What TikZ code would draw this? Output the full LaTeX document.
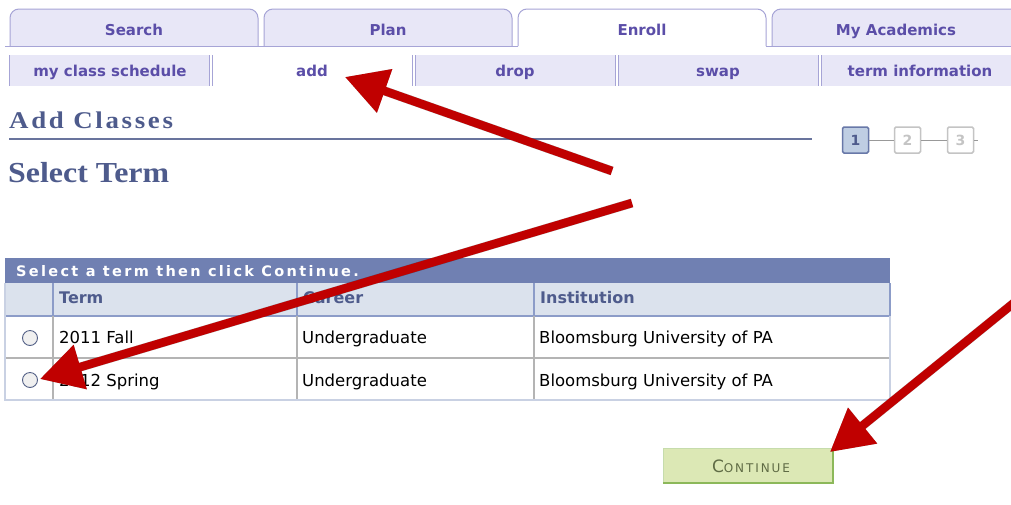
\documentclass[tikz,border=0pt]{standalone}
\usepackage{fontspec}
\setmainfont{DejaVu Sans}
\newfontfamily\hfont{Liberation Serif}
\newfontfamily\hfontsp{Liberation Serif}[LetterSpace=10]
\newfontfamily\barfont{DejaVu Sans}[LetterSpace=16]
\newfontfamily\btnfont{DejaVu Sans}[LetterSpace=16]
\usetikzlibrary{arrows.meta}
\definecolor{tabfill}{HTML}{E8E7F7}
\definecolor{tabline}{HTML}{A6A4D6}
\definecolor{tabtext}{HTML}{5B4EA8}
\definecolor{headcol}{HTML}{4E5B8C}
\definecolor{barfill}{HTML}{7080B2}
\definecolor{colhead}{HTML}{DBE2ED}
\definecolor{colline}{HTML}{8C9CC8}
\definecolor{gridline}{HTML}{B4B4B4}
\definecolor{outerline}{HTML}{C9D1E3}
\definecolor{arrowred}{HTML}{C00000}
\definecolor{btnfill}{HTML}{DCE8B5}
\definecolor{btnline}{HTML}{8CB85A}
\definecolor{btntext}{HTML}{5F6B45}
\definecolor{stepfill}{HTML}{BFCEE3}
\definecolor{stepline}{HTML}{6878A8}
\definecolor{stepgray}{HTML}{C4C4C4}
\tikzset{
  tabshape/.style={draw=tabline, line width=1pt, rounded corners=9},
  tabtxt/.style={text=tabtext, font=\fontsize{15}{15}\selectfont\bfseries, inner sep=0pt, anchor=base},
  subtxt/.style={text=tabtext, font=\fontsize{15}{15}\selectfont\bfseries, inner sep=0pt, anchor=base},
  sepline/.style={draw=tabline, line width=1pt},
  colhd/.style={text=headcol, font=\fontsize{16}{16}\selectfont\bfseries, anchor=base west, inner sep=0pt},
  celltxt/.style={text=black, font=\fontsize{16.5}{16.5}\selectfont, anchor=base west, inner sep=0pt},
  radio/.style={circle, draw=stepline!80!black, fill=gray!12, line width=0.9pt, minimum size=15pt, inner sep=0pt},
  stepbox/.style={draw=stepgray, line width=1.5pt, fill=white, minimum width=26pt, minimum height=26pt, inner sep=0pt, rounded corners=1.5,
     text=stepgray, font=\fontsize{14}{14}\selectfont\bfseries},
  redarrow/.style={draw=arrowred, line width=8.5pt, -{Triangle[length=42pt,width=44pt]}},
  shadowarrow/.style={draw=black, opacity=0.1, line width=9pt, -{Triangle[length=42pt,width=44pt]}},
}
\begin{document}
\begin{tikzpicture}[x=1pt,y=-1pt]
\useasboundingbox (0,0) rectangle (1011,504);
\clip (0,0) rectangle (1011,504);
\fill[white] (0,0) rectangle (1011,504);
% top tabs
\path[tabshape, fill=tabfill] (10,46) -- (10,9) -- (258,9) -- (258,46);
\path[tabshape, fill=tabfill] (264,46) -- (264,9) -- (512,9) -- (512,46);
\path[tabshape, fill=white] (518,46) -- (518,9) -- (766,9) -- (766,46);
\path[tabshape, fill=tabfill] (772,46) -- (772,9) -- (1024,9) -- (1024,46);
\draw[sepline] (5,46) -- (518,46);
\draw[sepline] (766,46) -- (1011,46);
\node[tabtxt] (search) at (134,35) {Search};
\node[tabtxt] (plan) at (388,35) {Plan};
\node[tabtxt] (enroll) at (642,35) {Enroll};
\node[tabtxt] (myacad) at (896,35) {My Academics};
% sub tabs
\fill[tabfill] (9,55) rectangle (209,86);
\fill[tabfill] (415,55) rectangle (615,86);
\fill[tabfill] (618,55) rectangle (818,86);
\fill[tabfill] (821,55) rectangle (1011,86);
\draw[sepline] (9.5,55) -- (9.5,86);
\foreach \x in {209,212,412,415,615,618,818,821} \draw[sepline] (\x,55) -- (\x,86);
\node[subtxt] (sched) at (110,76) {my class schedule};
\node[subtxt] (add) at (312,76) {add};
\node[subtxt] (drop) at (515,76) {drop};
\node[subtxt] (swap) at (718,76) {swap};
\node[subtxt] (terminfo) at (920,76) {term information};
% headings
\node[anchor=base west, inner sep=0pt, text=headcol] (addcl) at (9,128)
  {\scalebox{1.12}[1]{\hfontsp\fontsize{24}{24}\selectfont\bfseries Add Classes}};
\draw[draw=headcol!85, line width=1.3pt] (9,139) -- (812,139);
\node[anchor=base west, inner sep=0pt, text=headcol] (selterm) at (8,182)
  {\scalebox{1.1}[1]{\hfont\fontsize{29}{29}\selectfont\bfseries Select Term}};
% steps
\node[stepbox, draw=stepline, fill=stepfill, text=headcol] (s1) at (855.5,140) {1};
\node[stepbox] (s2) at (907.5,140) {2};
\node[stepbox] (s3) at (960.5,140) {3};
\draw[gray!80, line width=1pt] (s1) -- (s2);
\draw[gray!80, line width=1pt] (s2) -- (s3);
\draw[gray!80, line width=1pt] (s3.east) -- ++(4,0);
% table
\fill[barfill] (5,258) rectangle (890,283);
\node[anchor=base west, inner sep=0pt, text=white] (bar) at (16,276)
  {\barfont\fontsize{14.5}{14.5}\selectfont\bfseries Select a term then click Continue.};
\fill[colhead] (5,283) rectangle (890,316);
\fill[white] (5,316) rectangle (890,400);
\draw[colline, line width=1.5pt] (5,316) -- (890,316);
\foreach \x in {53,297,534} \draw[colline, line width=1.5pt] (\x,283) -- (\x,316);
\draw[colline, line width=1.2pt] (890,283) -- (890,316);
\draw[gridline, line width=2pt] (5,358) -- (890,358);
\foreach \x in {53,297,534} \draw[gridline, line width=1.5pt] (\x,316) -- (\x,400);
\draw[outerline, line width=1.2pt] (5,283) -- (5,400) -- (890,400) -- (890,316);
\node[colhd] (hterm) at (59,303) {Term};
\node[colhd] (hcareer) at (303,303) {Career};
\node[colhd] (hinst) at (540,303) {Institution};
\node[radio] (r1) at (30,338) {};
\node[radio] (r2) at (30,380) {};
\node[celltxt] (t1) at (59,343) {2011 Fall};
\node[celltxt] (c1) at (302,343) {Undergraduate};
\node[celltxt] (i1) at (539,343) {Bloomsburg University of PA};
\node[celltxt] (t2) at (59,386) {2012 Spring};
\node[celltxt] (c2) at (302,386) {Undergraduate};
\node[celltxt] (i2) at (539,386) {Bloomsburg University of PA};
% continue button
\fill[btnfill] (663,448) rectangle (833,483);
\draw[btnline!50!white, line width=1pt] (663,483) -- (663,448) -- (833,448);
\draw[btnline, line width=2pt] (833,448) -- (833,483) -- (663,483);
\node[anchor=base, inner sep=0pt, text=btntext] (cont) at (751,472)
  {\btnfont\fontsize{17}{17}\selectfont C\fontsize{12}{12}\selectfont ONTINUE};
% arrows
\coordinate (a1s) at (612,171);
\coordinate (a1e) at (345,77);
\coordinate (a2s) at (632,203);
\coordinate (a2e) at (40,379);
\coordinate (a3s) at (1015,302);
\coordinate (a3e) at (830,452);
\foreach \d in {2,4,6} {
  \draw[shadowarrow, shift={(\d,\d+1)}] (a1s) -- (a1e);
  \draw[shadowarrow, shift={(\d,\d+1)}] (a2s) -- (a2e);
  \draw[shadowarrow, shift={(\d,\d+1)}] (a3s) -- (a3e);
}
\draw[redarrow] (a1s) -- (a1e);
\draw[redarrow] (a2s) -- (a2e);
\draw[redarrow] (a3s) -- (a3e);
\end{tikzpicture}
\end{document}
